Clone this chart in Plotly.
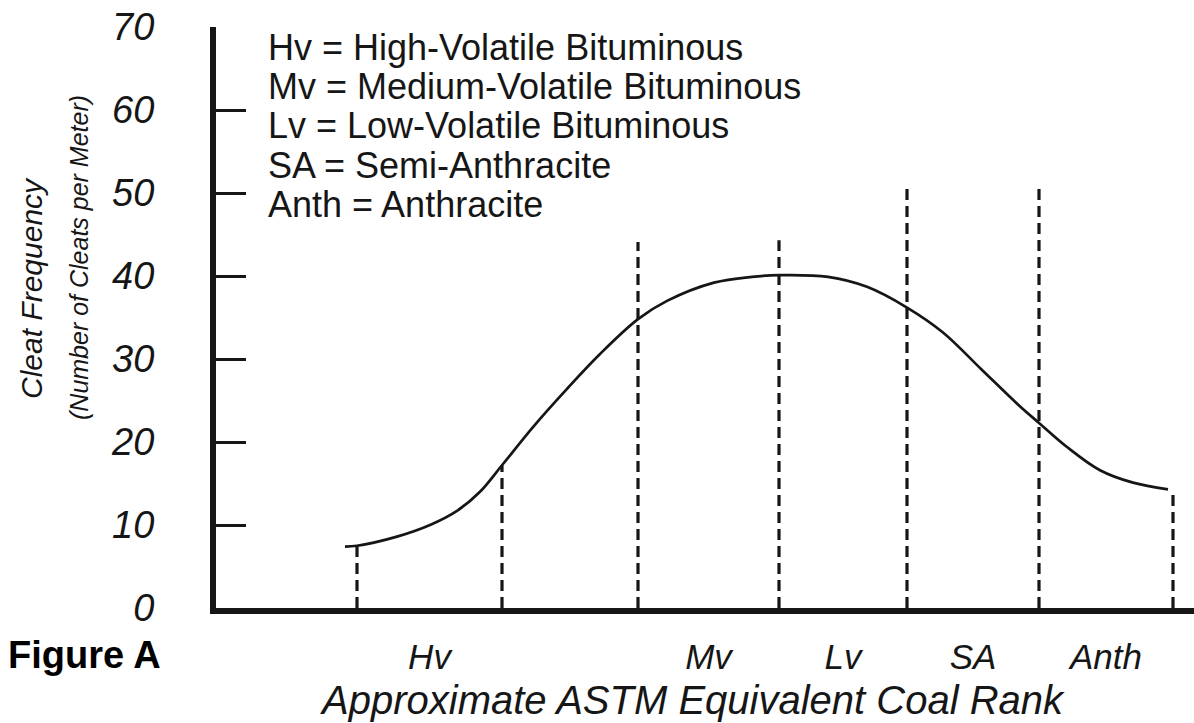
import plotly.graph_objects as go

# ---------------- data ----------------
# approximate rank position (arbitrary units along the ASTM rank axis)
rank_pos = [12.9, 14.1, 18.1, 21.4, 24.1, 26.4, 28.6, 31.7, 35.1, 38.4, 42.2, 45.1,
            49.8, 53.6, 56.3, 61.2, 65.1, 69.1, 72.7, 76.5, 80.3, 82.3, 85.1, 88.4,
            91.7, 95.2]
cleat_freq = [7.4, 7.5, 8.6, 10.0, 11.7, 14.0, 17.2, 21.8, 26.4, 30.6, 34.8, 37.0,
              39.2, 39.9, 40.1, 39.9, 38.7, 36.2, 33.2, 28.8, 24.4, 22.3, 19.4, 16.6,
              15.1, 14.3]

rank_boundaries = [14.1, 28.6, 42.2, 56.3, 69.1, 82.3, 95.7]
boundary_tops = [7.5, 17.2, 44.1, 44.3, 50.6, 50.6, 14.3]

rank_labels = ["Hv", "Mv", "Lv", "SA", "Anth"]
# the rank classes lie between consecutive boundaries (Hv: 1st-2nd, Mv: 3rd-4th, ...)
rank_label_spans = [(0, 1), (2, 3), (3, 4), (4, 5), (5, 6)]

legend_abbr = ["Hv", "Mv", "Lv", "SA", "Anth"]
legend_names = ["High-Volatile Bituminous", "Medium-Volatile Bituminous",
                "Low-Volatile Bituminous", "Semi-Anthracite", "Anthracite"]

y_ticks = [0, 10, 20, 30, 40, 50, 60, 70]

# ---------------- layout helpers ----------------
W, H = 1194, 723
ML, MR, MT, MB = 216, 0, 27, 115
PW, PH = W - ML - MR, H - MT - MB
FONT = "Liberation Sans, Arial, sans-serif"
INK = "#161616"


def px_x(p):
    return (p - ML) / PW


def px_y(p):
    return (H - MB - p) / PH


fig = go.Figure()

# dashed rank boundaries
dx, dy = [], []
for b, t in zip(rank_boundaries, boundary_tops):
    dx += [b, b, None]
    dy += [0, t, None]
fig.add_trace(go.Scatter(x=dx, y=dy, mode="lines",
                         line=dict(color=INK, width=3.2, dash="11px,6px"),
                         hoverinfo="skip", showlegend=False))

# cleat frequency curve
fig.add_trace(go.Scatter(x=rank_pos, y=cleat_freq, mode="lines",
                         line=dict(color=INK, width=2.7, shape="spline", smoothing=1),
                         showlegend=False))

label_pos = [(rank_boundaries[a] + rank_boundaries[b]) / 2 for a, b in rank_label_spans]

fig.update_xaxes(range=[0, 97.8], showgrid=False, zeroline=False, automargin=False,
                 showline=True, linewidth=6, linecolor=INK,
                 ticks="", tickvals=label_pos, ticktext=rank_labels,
                 tickfont=dict(family=FONT, size=35, color=INK, style="italic"),
                 ticklabelstandoff=13)
fig.update_yaxes(range=[0, 70], showgrid=False, zeroline=False, automargin=False,
                 showline=True, linewidth=6, linecolor=INK,
                 ticks="inside", ticklen=30, tickwidth=2.5, tickcolor=INK,
                 tickvals=y_ticks,
                 tickfont=dict(family=FONT, size=38, color=INK, style="italic"),
                 ticklabelstandoff=48)

ann = []
legend_y = [47, 86, 126, 165, 204]
for a, n, yy in zip(legend_abbr, legend_names, legend_y):
    ann.append(dict(text=f"{a} = {n}", xref="paper", yref="paper",
                    x=px_x(266), y=px_y(yy), xanchor="left", yanchor="middle",
                    showarrow=False, font=dict(family=FONT, size=36, color=INK)))

ann.append(dict(text="Approximate ASTM Equivalent Coal Rank", xref="paper", yref="paper",
                x=px_x(692), y=px_y(700), xanchor="center", yanchor="middle",
                showarrow=False, font=dict(family=FONT, size=40, color=INK, style="italic")))
ann.append(dict(text="<b>Figure A</b>", xref="paper", yref="paper",
                x=px_x(84), y=px_y(655), xanchor="center", yanchor="middle",
                showarrow=False, font=dict(family=FONT, size=38, color="#000000")))
ann.append(dict(text="Cleat Frequency", xref="paper", yref="paper",
                x=px_x(31), y=px_y(288), xanchor="center", yanchor="middle",
                textangle=-90, showarrow=False,
                font=dict(family=FONT, size=30, color=INK, style="italic")))
ann.append(dict(text="(Number of Cleats per Meter)", xref="paper", yref="paper",
                x=px_x(79), y=px_y(258), xanchor="center", yanchor="middle",
                textangle=-90, showarrow=False,
                font=dict(family=FONT, size=25, color=INK, style="italic")))

fig.update_layout(width=W, height=H, margin=dict(l=ML, r=MR, t=MT, b=MB),
                  paper_bgcolor="white", plot_bgcolor="white",
                  annotations=ann, showlegend=False)

fig.write_html("out.html", config={"displayModeBar": False},
               post_script="document.body.style.margin='0px';"
                           "document.body.style.overflow='hidden';")
